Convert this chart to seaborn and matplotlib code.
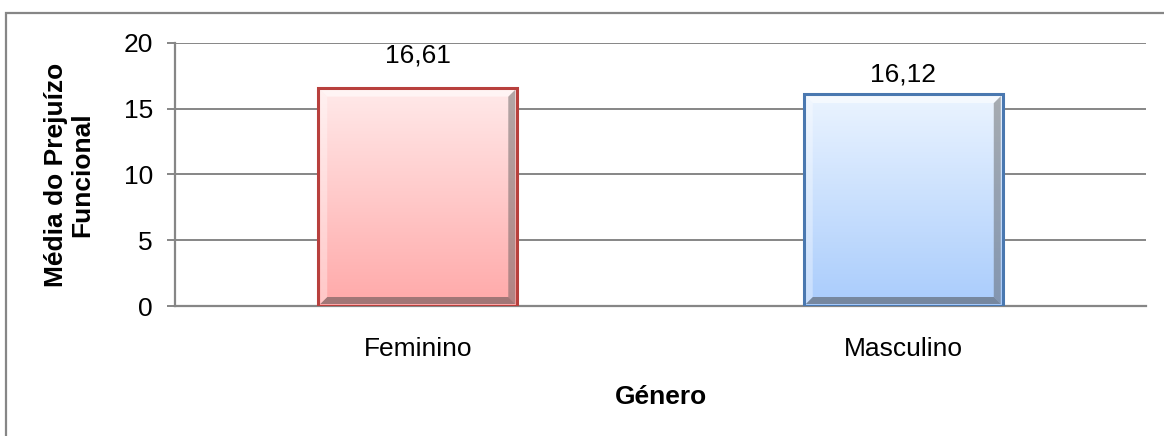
import matplotlib
matplotlib.use("Agg")
import matplotlib.pyplot as plt
import numpy as np
import seaborn as sns
from matplotlib.patches import Rectangle, Polygon

# ---- data ----
categories = ["Feminino", "Masculino"]
values = [16.61, 16.12]
value_labels = ["16,61", "16,12"]
y_ticks = [0, 5, 10, 15, 20]

# ---- style ----
top_colors = ["#ffeaea", "#ebf4ff"]
bottom_colors = ["#ffa9a9", "#a9ccfc"]
edge_colors = ["#b8403d", "#4a78b0"]
label_offsets_px = [32, 20]
FS = 19

sns.set_theme(style="white")
plt.rcParams["font.family"] = ["Liberation Sans", "DejaVu Sans"]

W, H = 1164, 436
fig = plt.figure(figsize=(W / 100, H / 100), dpi=100)
ax = fig.add_axes([175 / W, 1 - 306 / H, (1146 - 175) / W, (306 - 43) / H])

sns.barplot(x=categories, y=values, hue=categories, palette=top_colors,
            legend=False, width=0.41, ax=ax, zorder=3)

ax.set_ylim(0, 20)
ax.set_xlim(-0.5, 1.5)
ax.set_yticks(y_ticks)
ax.yaxis.grid(True, color="#868686", linewidth=1.4, zorder=0)
ax.set_axisbelow(True)

for s in ["top", "right"]:
    ax.spines[s].set_visible(False)
for s in ["left", "bottom"]:
    ax.spines[s].set_color("#868686")
    ax.spines[s].set_linewidth(1.6)

ax.tick_params(axis="y", which="major", left=True, length=6, width=1.4,
               color="#868686", labelsize=FS, pad=10, labelcolor="black")
ax.tick_params(axis="x", which="major", bottom=False, labelsize=FS, pad=16,
               labelcolor="black")

ax.set_xlabel("Género", fontsize=FS, fontweight="bold", color="black")
ax.xaxis.set_label_coords(0.5, -0.346)
ax.xaxis.label.set_va("center")
ax.set_ylabel("Média do Prejuízo\nFuncional", fontsize=FS, fontweight="bold",
              color="black", multialignment="center", linespacing=1.15)
ax.yaxis.set_label_coords(-0.109, 0.5)
ax.yaxis.label.set_va("center")

fig.canvas.draw()
# px per data unit
px_x = ax.bbox.width / 2.0
px_y = ax.bbox.height / 20.0

for i, p in enumerate(ax.patches):
    x0, y0 = p.get_x(), p.get_y()
    w, h = p.get_width(), p.get_height()
    x1, y1 = x0 + w, y0 + h
    c_top = np.array(matplotlib.colors.to_rgb(top_colors[i]))
    c_bot = np.array(matplotlib.colors.to_rgb(bottom_colors[i]))
    t = np.linspace(0, 1, 256)[:, None]
    grad = (c_top[None, :] * (1 - t) + c_bot[None, :] * t)[:, None, :]
    p.set_facecolor("none")
    p.set_edgecolor(edge_colors[i])
    p.set_linewidth(2.2)
    p.set_zorder(6)
    im = ax.imshow(grad, extent=[x0, x1, y0, y1], aspect="auto",
                   origin="upper", zorder=4)
    im.set_clip_path(p)
    # bevel
    d = 7
    dx, dy = d / px_x, d / px_y
    ex, ey = 2 / px_x, 2 / px_y
    ax0, ax1, ay0, ay1 = x0 + ex, x1 - ex, y0 + ey, y1 - ey
    right = Polygon([(ax1, ay1), (ax1, ay0), (ax1 - dx, ay0 + dy), (ax1 - dx, ay1 - dy)],
                    closed=True, facecolor="#555555", alpha=0.45, edgecolor="none", zorder=5)
    bottom = Polygon([(ax0, ay0), (ax1, ay0), (ax1 - dx, ay0 + dy), (ax0 + dx, ay0 + dy)],
                     closed=True, facecolor="#444444", alpha=0.5, edgecolor="none", zorder=5)
    topb = Polygon([(ax0, ay1), (ax1, ay1), (ax1 - dx, ay1 - dy), (ax0 + dx, ay1 - dy)],
                   closed=True, facecolor="white", alpha=0.55, edgecolor="none", zorder=5)
    leftb = Polygon([(ax0, ay0), (ax0, ay1), (ax0 + dx, ay1 - dy), (ax0 + dx, ay0 + dy)],
                    closed=True, facecolor="white", alpha=0.35, edgecolor="none", zorder=5)
    for poly in (right, bottom, topb, leftb):
        ax.add_patch(poly)
    ax.annotate(value_labels[i], xy=(x0 + w / 2, y1), xytext=(0, label_offsets_px[i] * 0.72),
                textcoords="offset points", ha="center", va="center",
                fontsize=FS, color="black", zorder=7)

# outer chart border (top & left visible)
fig.patches.append(Rectangle((6 / W, -0.05), 1.2, (1 - 13 / H) + 0.05,
                             transform=fig.transFigure, fill=False,
                             edgecolor="#868686", linewidth=1.6))

fig.savefig("out.png", dpi=100)
